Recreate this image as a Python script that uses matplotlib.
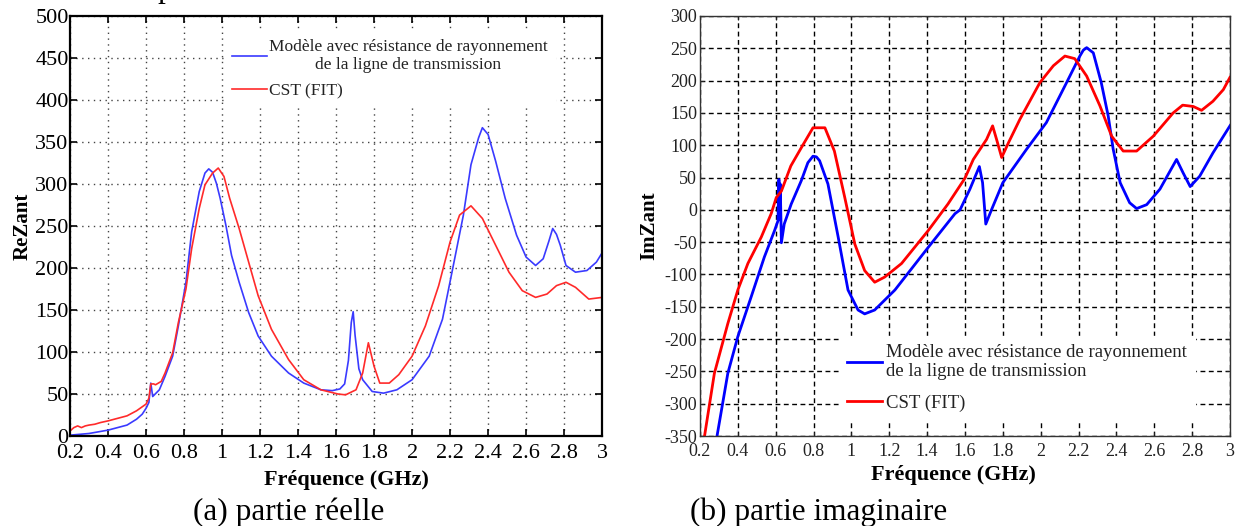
import matplotlib
matplotlib.use("Agg")
import matplotlib.pyplot as plt
from matplotlib.ticker import FormatStrFormatter

plt.rcParams["font.family"] = ["Liberation Serif", "DejaVu Serif"]
plt.rcParams["axes.unicode_minus"] = False

# (a) partie reelle -- modele (bleu)
re_model_f = [0.2, 0.3, 0.4, 0.5, 0.55, 0.58, 0.6, 0.615, 0.625, 0.635, 0.67, 0.70,
              0.74, 0.77, 0.81, 0.84, 0.88, 0.91, 0.93, 0.95, 0.97, 0.99, 1.02, 1.05,
              1.09, 1.14, 1.19, 1.26, 1.35, 1.43, 1.52, 1.58, 1.62, 1.645, 1.665, 1.68,
              1.69, 1.70, 1.72, 1.74, 1.79, 1.85, 1.92, 2.0, 2.09, 2.16, 2.21, 2.27,
              2.31, 2.35, 2.37, 2.40, 2.44, 2.49, 2.55, 2.60, 2.65, 2.69, 2.72, 2.74,
              2.76, 2.78, 2.81, 2.86, 2.92, 2.97, 3.0]
re_model_v = [1, 3, 7, 13, 20, 26, 33, 40, 63, 47, 55, 71,
              95, 131, 183, 243, 291, 313, 318, 314, 301, 283, 251, 215,
              183, 147, 119, 95, 75, 63, 55, 54, 56, 62, 90, 135,
              148, 120, 80, 67, 53, 51, 55, 67, 95, 139, 195, 263,
              323, 355, 367, 359, 327, 283, 239, 213, 203, 211, 232, 247,
              240, 227, 203, 195, 197, 207, 218]

# (a) partie reelle -- CST (rouge)
re_cst_f = [0.2, 0.22, 0.24, 0.26, 0.28, 0.3, 0.33, 0.36, 0.4, 0.45, 0.5, 0.55,
            0.6, 0.615, 0.625, 0.64, 0.65, 0.68, 0.70, 0.74, 0.77, 0.81, 0.84, 0.88,
            0.91, 0.95, 0.98, 1.01, 1.04, 1.09, 1.14, 1.19, 1.26, 1.35, 1.43, 1.52,
            1.61, 1.65, 1.705, 1.74, 1.77, 1.80, 1.83, 1.88, 1.93, 2.0, 2.07, 2.14,
            2.20, 2.25, 2.31, 2.37, 2.44, 2.51, 2.58, 2.65, 2.71, 2.76, 2.81, 2.86,
            2.93, 3.0]
re_cst_v = [6, 10, 12, 10, 12, 13, 14, 16, 18, 21, 24, 30,
            38, 45, 62, 62, 61, 65, 75, 99, 135, 175, 223, 271,
            299, 313, 319, 309, 283, 247, 207, 167, 127, 91, 67, 55,
            50, 49, 55, 75, 111, 83, 63, 63, 73, 95, 131, 179,
            231, 263, 274, 259, 227, 195, 173, 165, 169, 179, 183, 177,
            163, 165]

# (b) partie imaginaire -- modele (bleu)
im_model_f = [0.29, 0.347, 0.40, 0.47, 0.54, 0.594, 0.612, 0.617, 0.621, 0.624, 0.630,
              0.645, 0.682, 0.735, 0.77, 0.797, 0.815, 0.832, 0.876, 0.93, 0.982, 1.035,
              1.07, 1.123, 1.23, 1.406, 1.547, 1.574, 1.626, 1.676, 1.693, 1.71, 1.74,
              1.80, 1.926, 2.03, 2.137, 2.207, 2.225, 2.243, 2.278, 2.32, 2.357, 2.383,
              2.42, 2.47, 2.507, 2.56, 2.63, 2.718, 2.753, 2.79, 2.84, 2.91, 3.0]
im_model_v = [-350, -253, -196, -135, -73, -32, -17, 47, -15, 40, -51,
              -22, 9, 45, 73, 83, 82, 76, 40, -42, -124, -155,
              -161, -155, -124, -58, -6, 0, 32, 67, 42, -22, 0,
              42, 94, 135, 197, 238, 247, 251, 243, 197, 145, 94,
              42, 11, 2, 8, 32, 78, 57, 36, 52, 88, 130]

# (b) partie imaginaire -- CST (rouge)
im_cst_f = [0.224, 0.276, 0.347, 0.40, 0.453, 0.524, 0.576, 0.603, 0.63, 0.68, 0.735,
            0.797, 0.86, 0.91, 0.965, 1.018, 1.07, 1.123, 1.176, 1.265, 1.406, 1.51,
            1.6, 1.644, 1.714, 1.746, 1.767, 1.794, 1.83, 1.89, 1.996, 2.067, 2.128,
            2.18, 2.243, 2.313, 2.375, 2.436, 2.507, 2.595, 2.70, 2.75, 2.806, 2.85,
            2.91, 2.965, 3.0]
im_cst_v = [-350, -253, -176, -124, -83, -42, -6, 19, 29, 68, 96,
            127, 127, 91, 19, -53, -94, -112, -104, -83, -32, 9,
            49, 78, 109, 130, 109, 81, 104, 140, 197, 223, 238,
            234, 207, 161, 114, 91, 91, 114, 150, 162, 160, 154,
            168, 186, 205]

freq_ticks = [0.2, 0.4, 0.6, 0.8, 1, 1.2, 1.4, 1.6, 1.8, 2, 2.2, 2.4, 2.6, 2.8, 3]
re_ticks = list(range(0, 501, 50))
im_ticks = list(range(-350, 301, 50))

label_model = "Modèle avec résistance de rayonnement\nde la ligne de transmission"
label_cst = "CST (FIT)"

fig = plt.figure(figsize=(12.44, 5.26), dpi=100)

# ---------- (a) partie reelle ----------
ax1 = fig.add_axes([0.0563, 0.1711, 0.4277, 0.7985])
ax1.plot(re_model_f, re_model_v, color="#3a3aff", lw=1.2, label=label_model)
ax1.plot(re_cst_f, re_cst_v, color="#ff2a2a", lw=1.2, label=label_cst)
ax1.set_xlim(0.2, 3)
ax1.set_ylim(0, 500)
ax1.set_xticks(freq_ticks)
ax1.set_yticks(re_ticks)
ax1.xaxis.set_major_formatter(FormatStrFormatter("%g"))
ax1.grid(True, color="#444444", linestyle=(0, (1, 3.2)), lw=1.0)
ax1.tick_params(direction="in", length=5, width=1.2, labelsize=16,
                top=True, right=True, colors="black")
ax1.tick_params(axis="x", pad=6)
ax1.tick_params(axis="y", pad=1)
for s in ax1.spines.values():
    s.set_linewidth(1.6)
ax1.set_ylabel("ReZant", fontsize=15, fontweight="bold", labelpad=2)
ax1.set_xlabel("Fréquence (GHz)", fontsize=16, fontweight="bold")
ax1.xaxis.set_label_coords(0.52, -0.08)
leg1 = ax1.legend(loc="upper left", bbox_to_anchor=(0.291, 0.962), fontsize=12.5,
                  frameon=True, facecolor="white", edgecolor="white", framealpha=1,
                  fancybox=False, borderaxespad=0, handlelength=2.0,
                  handletextpad=0.15, labelspacing=0.6, borderpad=0.4)
for t in leg1.get_texts():
    t.set_multialignment("center")
    t.set_linespacing(1.15)
    t.set_color("#222222")

# ---------- (b) partie imaginaire ----------
ax2 = fig.add_axes([0.5627, 0.1711, 0.4260, 0.7985])
ax2.plot(im_model_f, im_model_v, color="#0000ff", lw=2.0, label=label_model)
ax2.plot(im_cst_f, im_cst_v, color="#ff0000", lw=2.0, label=label_cst)
ax2.set_xlim(0.2, 3)
ax2.set_ylim(-350, 300)
ax2.set_xticks(freq_ticks)
ax2.set_yticks(im_ticks)
ax2.xaxis.set_major_formatter(FormatStrFormatter("%g"))
ax2.grid(True, color="black", linestyle=(0, (3.5, 2.5)), lw=1.0)
ax2.tick_params(direction="in", length=3, width=0.8, labelsize=13,
                top=True, right=True, colors="#222222")
ax2.tick_params(axis="x", pad=5)
ax2.tick_params(axis="y", pad=2)
for s in ax2.spines.values():
    s.set_linewidth(1.0)
    s.set_color("#333333")
ax2.set_ylabel("ImZant", fontsize=15, fontweight="bold", labelpad=4)
ax2.set_xlabel("Fréquence (GHz)", fontsize=16, fontweight="bold")
ax2.xaxis.set_label_coords(0.479, -0.07)
leg2 = ax2.legend(loc="lower left", bbox_to_anchor=(0.263, 0.04), fontsize=13.5,
                  frameon=True, facecolor="white", edgecolor="white", framealpha=1,
                  fancybox=False, borderaxespad=0, handlelength=1.9,
                  handletextpad=0.2, labelspacing=0.75, borderpad=0.4)
for t in leg2.get_texts():
    t.set_linespacing(1.2)
    t.set_color("#222222")

# captions
fig.text(0.2319, 0.0114, "(a) partie réelle", fontsize=22.5, ha="center", va="baseline")
fig.text(0.658, 0.0114, "(b) partie imaginaire", fontsize=22.5, ha="center", va="baseline")
# descender of a line of text cut off above the figure
fig.text(0.1265, 1.006, "p", fontsize=22.5, ha="left", va="baseline")

fig.savefig("out.png", dpi=100, facecolor="white")
